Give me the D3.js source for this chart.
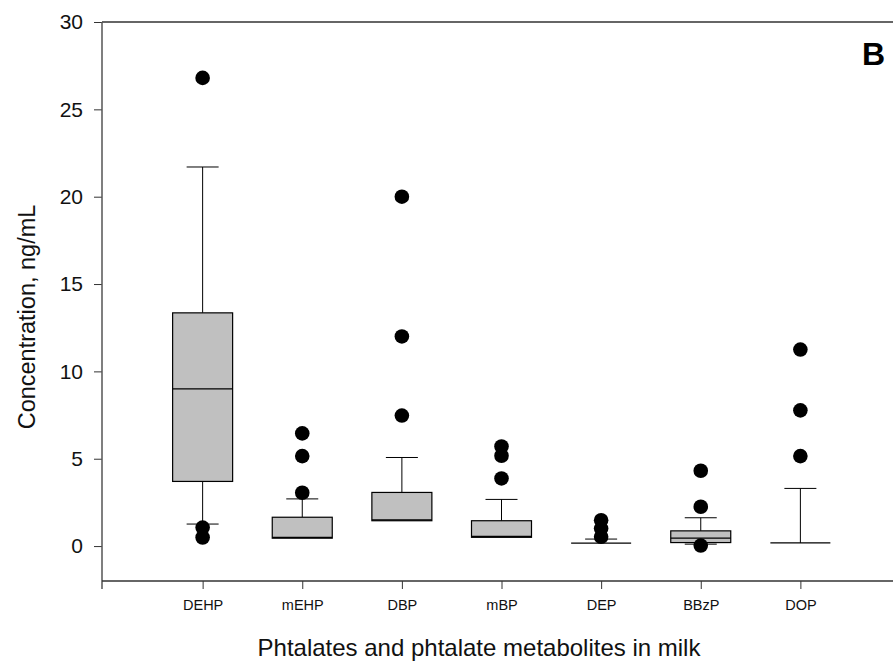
<!DOCTYPE html>
<html>
<head>
<meta charset="utf-8">
<script src="https://cdn.jsdelivr.net/npm/d3@7"></script>
<style>
  body { margin: 0; background: #fff; }
  svg { display: block; }
</style>
</head>
<body>
<div id="chart"></div>
<script>
const width = 893;
const height = 666;
const fontFamily = "Arial, 'Liberation Sans', sans-serif";

// Box plot statistics
const categories = ["DEHP", "mEHP", "DBP", "mBP", "DEP", "BBzP", "DOP"];
const q1 =          [3.7,  0.45, 1.45, 0.5,  0.17, 0.2,  0.18];
const medians =     [9.0,  0.5,  1.5,  0.55, 0.17, 0.45, 0.18];
const q3 =          [13.35, 1.65, 3.07, 1.45, 0.17, 0.87, 0.18];
const whiskerLow =  [1.26, 0.45, 1.45, 0.5,  0.17, 0.11, 0.18];
const whiskerHigh = [21.7, 2.7,  5.07, 2.67, 0.4,  1.62, 3.3];
const outliers = [
  [26.8, 1.06, 0.49],
  [6.45, 5.15, 3.05],
  [20.0, 12.0, 7.47],
  [5.7, 5.17, 3.87],
  [1.48, 1.0, 0.53],
  [4.31, 2.25, 0.03],
  [11.25, 7.77, 5.15]
];
const yTicks = [0, 5, 10, 15, 20, 25, 30];

const svg = d3.select("#chart").append("svg")
  .attr("width", width)
  .attr("height", height);

const plotLeft = 102, plotTop = 22, plotBottom = 581;

const x = d3.scaleLinear().domain([0, 8]).range([103, 900]);
const y = d3.scaleLinear().domain([-2, 30]).range([plotBottom, plotTop]);

const boxW = 60;
const capW = 32;

// Frame line on top
svg.append("line")
  .attr("x1", plotLeft).attr("x2", width)
  .attr("y1", plotTop).attr("y2", plotTop)
  .attr("stroke", "#333").attr("stroke-width", 1.3);

// Y axis
const yAxis = svg.append("g")
  .attr("transform", `translate(${plotLeft},0)`)
  .call(d3.axisLeft(y).tickValues(yTicks).tickSize(8).tickPadding(11));
yAxis.select(".domain").remove();
yAxis.selectAll(".tick line").attr("stroke", "#333");
yAxis.selectAll(".tick text")
  .attr("font-family", fontFamily)
  .attr("font-size", "21px")
  .attr("fill", "#111");
svg.append("line")
  .attr("x1", plotLeft).attr("x2", plotLeft)
  .attr("y1", plotTop).attr("y2", plotBottom + 8)
  .attr("stroke", "#555").attr("stroke-width", 1.5);

// X axis
const xAxis = svg.append("g")
  .attr("transform", `translate(0,${plotBottom})`)
  .call(d3.axisBottom(x)
    .tickValues(d3.range(1, categories.length + 1))
    .tickFormat(d => categories[d - 1])
    .tickSize(8).tickPadding(11));
xAxis.select(".domain").remove();
xAxis.selectAll(".tick line").attr("stroke", "#333");
xAxis.selectAll(".tick text")
  .attr("font-family", fontFamily)
  .attr("font-size", "14.5px")
  .attr("fill", "#111");
svg.append("line")
  .attr("x1", plotLeft).attr("x2", width)
  .attr("y1", plotBottom).attr("y2", plotBottom)
  .attr("stroke", "#333").attr("stroke-width", 1.3);

// Boxes
const g = svg.append("g");
categories.forEach((c, i) => {
  const cx = x(i + 1);
  const grp = g.append("g");

  // whiskers
  if (whiskerHigh[i] > q3[i]) {
    grp.append("line")
      .attr("x1", cx).attr("x2", cx)
      .attr("y1", y(q3[i])).attr("y2", y(whiskerHigh[i]))
      .attr("stroke", "#000");
    grp.append("line")
      .attr("x1", cx - capW / 2).attr("x2", cx + capW / 2)
      .attr("y1", y(whiskerHigh[i])).attr("y2", y(whiskerHigh[i]))
      .attr("stroke", "#000");
  }
  if (whiskerLow[i] < q1[i]) {
    grp.append("line")
      .attr("x1", cx).attr("x2", cx)
      .attr("y1", y(q1[i])).attr("y2", y(whiskerLow[i]))
      .attr("stroke", "#000");
    grp.append("line")
      .attr("x1", cx - capW / 2).attr("x2", cx + capW / 2)
      .attr("y1", y(whiskerLow[i])).attr("y2", y(whiskerLow[i]))
      .attr("stroke", "#000");
  }

  // box
  if (q3[i] > q1[i]) {
    grp.append("rect")
      .attr("x", cx - boxW / 2)
      .attr("y", y(q3[i]))
      .attr("width", boxW)
      .attr("height", y(q1[i]) - y(q3[i]))
      .attr("fill", "#c0c0c0")
      .attr("stroke", "#000")
      .attr("stroke-width", 1.2);
  }
  // median
  grp.append("line")
    .attr("x1", cx - boxW / 2).attr("x2", cx + boxW / 2)
    .attr("y1", y(medians[i])).attr("y2", y(medians[i]))
    .attr("stroke", "#000").attr("stroke-width", 1.2);

  // outliers
  grp.selectAll("circle")
    .data(outliers[i])
    .enter()
    .append("circle")
    .attr("cx", cx)
    .attr("cy", d => y(d))
    .attr("r", 7.3)
    .attr("fill", "#000");
});

// Axis titles
svg.append("text")
  .attr("transform", `translate(35,317) rotate(-90)`)
  .attr("text-anchor", "middle")
  .attr("font-family", fontFamily)
  .attr("font-size", "23.5px")
  .attr("fill", "#111")
  .text("Concentration, ng/mL");

svg.append("text")
  .attr("x", 479)
  .attr("y", 656)
  .attr("text-anchor", "middle")
  .attr("font-family", fontFamily)
  .attr("font-size", "24px")
  .attr("fill", "#111")
  .text("Phtalates and phtalate metabolites in milk");

// Panel letter
svg.append("text")
  .attr("x", 862)
  .attr("y", 65)
  .attr("font-family", fontFamily)
  .attr("font-size", "32px")
  .attr("font-weight", "bold")
  .attr("fill", "#000")
  .text("B");
</script>
</body>
</html>
